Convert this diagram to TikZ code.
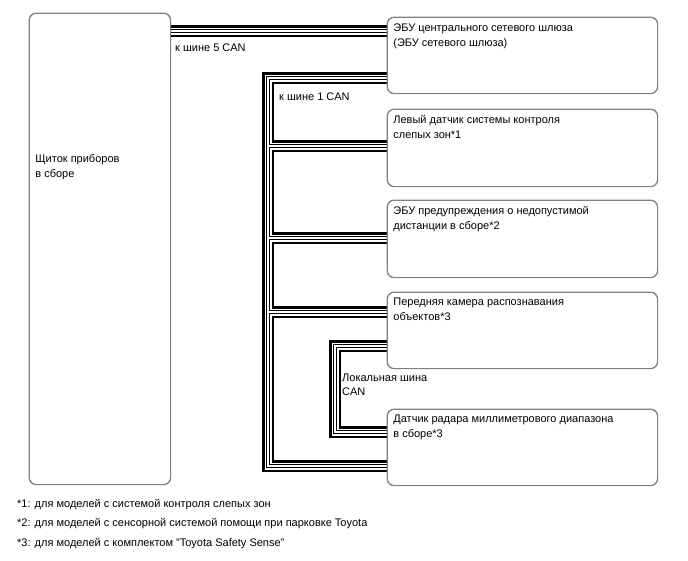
\documentclass[tikz,border=0pt]{standalone}
\usepackage{fontspec}
\setmainfont{Liberation Sans}
\definecolor{boxgray}{RGB}{128,128,128}
\newcommand\canbus[1]{%
  \draw[line width=12.5pt, black] #1;
  \draw[line width=7pt, white] #1;
  \draw[line width=4.6pt, black] #1;
  \draw[line width=2.2pt, white] #1;}
\begin{document}
\begin{tikzpicture}[x=1pt,y=-1pt,
  font=\fontsize{11}{15}\selectfont,
  box/.style={draw=boxgray, line width=0.8pt, rounded corners=7pt, anchor=north west, inner xsep=6pt, inner ysep=6pt},
  lbl/.style={anchor=west, inner sep=0pt}]
\useasboundingbox (0,0) rectangle (688,560);
\fill[white] (0,0) rectangle (688,560);
% helper coordinates (heights of the bus lines)
\coordinate (h31) at (0,31);
\coordinate (h78) at (0,78);
\coordinate (h146) at (0,146);
\coordinate (h238) at (0,238);
\coordinate (h312) at (0,312);
\coordinate (h466) at (0,466);
\coordinate (h346) at (0,346);
\coordinate (h432) at (0,432);
\coordinate (tkTop) at (268,78);
\coordinate (tkBot) at (268,466);
\coordinate (j1) at (268,146);
\coordinate (j2) at (268,238);
\coordinate (j3) at (268,312);
\coordinate (lcTop) at (335,346);
\coordinate (lcBot) at (335,432);
% boxes (positions only, drawn later on top of bus ends)
\path
  node[box] (lb) at (29,13) {\parbox[t][459pt][t]{129pt}{\vspace*{135pt}Щиток приборов\\в сборе}}
  node[box] (gw) at (387,17) {\parbox[t][64pt][t]{258pt}{ЭБУ центрального сетевого шлюза\\(ЭБУ сетевого шлюза)}}
  node[box] (b1) at (387,109) {\parbox[t][65pt][t]{258pt}{Левый датчик системы контроля\\слепых зон*1}}
  node[box] (b2) at (387,200) {\parbox[t][65pt][t]{258pt}{ЭБУ предупреждения о недопустимой\\дистанции в сборе*2}}
  node[box] (b3) at (387,292) {\parbox[t][64pt][t]{258pt}{Передняя камера распознавания\\объектов*3}}
  node[box] (b4) at (387,409) {\parbox[t][64pt][t]{258pt}{Датчик радара миллиметрового диапазона\\в сборе*3}};
% buses
\canbus{(lb.east |- h31) -- (gw.west |- h31)}
\canbus{(gw.west |- h78) -- (tkTop) -- (tkBot) -- (b4.west |- h466)
  (j1) -- (b1.west |- h146) (j2) -- (b2.west |- h238) (j3) -- (b3.west |- h312)}
\canbus{(b3.west |- h346) -- (lcTop) -- (lcBot) -- (b4.west |- h432)}
% redraw box borders on top
\foreach \n in {lb,gw,b1,b2,b3,b4}{
  \draw[boxgray, line width=0.8pt, rounded corners=7pt] (\n.north west) rectangle (\n.south east);}
% labels
\node[lbl] (l5) at (175,48) {к шине 5 CAN};
\node[lbl] (l1) at (279,97) {к шине 1 CAN};
\node[anchor=north west, inner sep=0pt, align=left, font=\fontsize{11}{13.5}\selectfont] (lc) at (342,374) {Локальная шина\\CAN};
\node[lbl] (f1) at (17,505) {*1: для моделей с системой контроля слепых зон};
\node[lbl] (f2) at (17,524) {*2: для моделей с сенсорной системой помощи при парковке Toyota};
\node[lbl] (f3) at (17,544) {*3: для моделей с комплектом "Toyota Safety Sense"};
\end{tikzpicture}
\end{document}
